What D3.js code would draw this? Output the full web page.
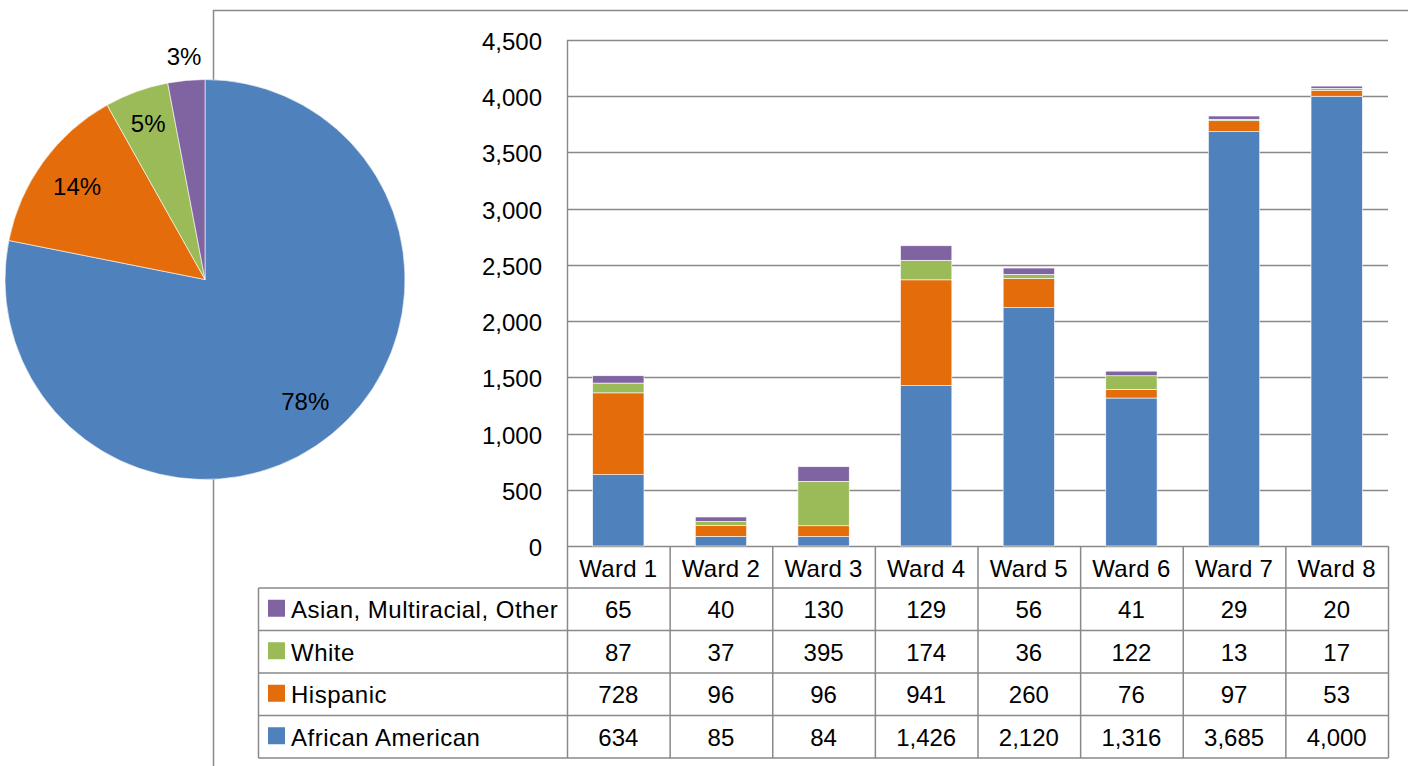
<!DOCTYPE html>
<html>
<head>
<meta charset="utf-8">
<script src="https://cdn.jsdelivr.net/npm/d3@7"></script>
<style>
  body { margin: 0; background: #ffffff; }
  svg { display: block; font-family: "Liberation Sans", Arial, sans-serif; }
</style>
</head>
<body>
<div id="chart"></div>
<script>
// data
var wards = ["Ward 1", "Ward 2", "Ward 3", "Ward 4", "Ward 5", "Ward 6", "Ward 7", "Ward 8"];
var groups = ["African American", "Hispanic", "White", "Asian, Multiracial, Other"];
var africanAmerican = [634, 85, 84, 1426, 2120, 1316, 3685, 4000];
var hispanic = [728, 96, 96, 941, 260, 76, 97, 53];
var white = [87, 37, 395, 174, 36, 122, 13, 17];
var asianOther = [65, 40, 130, 129, 56, 41, 29, 20];
var yTicks = [0, 500, 1000, 1500, 2000, 2500, 3000, 3500, 4000, 4500];

var colors = ["#4f81bd", "#e46c0a", "#9bbb59", "#8064a2"];
var lineColor = "#898989";
var fontSize = 24;

var width = 1408;
var height = 766;
var svg = d3.select("#chart")
            .append("svg")
            .attr("width", width)
            .attr("height", height);

var series = [africanAmerican, hispanic, white, asianOther];

// chart frame (partly hidden by pie)
svg.append("path")
    .attr("d", "M213.5," + height + "V10.5H" + width)
    .attr("fill", "none")
    .attr("stroke", lineColor)
    .attr("stroke-width", 1.5);

// bar chart
var plotLeft = 567, plotRight = 1388, plotTop = 40, plotBottom = 546;
var x = d3.scaleBand()
            .domain(wards)
            .range([plotLeft, plotRight])
            .paddingInner(0.5)
            .paddingOuter(0.25);
var y = d3.scaleLinear()
            .domain([0, 4500])
            .range([plotBottom, plotTop]);

svg.append("g")
    .selectAll("line")
    .data(yTicks)
    .enter()
    .append("line")
    .attr("x1", plotLeft)
    .attr("x2", plotRight)
    .attr("y1", function(d){ return Math.round(y(d)) + 0.5; })
    .attr("y2", function(d){ return Math.round(y(d)) + 0.5; })
    .attr("stroke", lineColor)
    .attr("stroke-width", 1.4);

svg.append("line")
    .attr("x1", plotLeft + 0.5).attr("x2", plotLeft + 0.5)
    .attr("y1", plotTop).attr("y2", plotBottom)
    .attr("stroke", lineColor)
    .attr("stroke-width", 1.4);

svg.append("g")
    .selectAll("text")
    .data(yTicks)
    .enter()
    .append("text")
    .attr("x", 542)
    .attr("y", function(d){ return y(d) + 10; })
    .attr("text-anchor", "end")
    .attr("font-size", fontSize)
    .attr("fill", "#000")
    .text(function(d){ return d3.format(",")(d); });

var stackData = wards.map(function(w, i){
    var row = { ward: w };
    groups.forEach(function(g, k){ row[g] = series[k][i]; });
    return row;
});
var stacked = d3.stack().keys(groups)(stackData);

svg.append("g")
    .selectAll("g")
    .data(stacked)
    .enter()
    .append("g")
    .attr("fill", function(d, i){ return colors[i]; })
    .selectAll("rect")
    .data(function(d){ return d; })
    .enter()
    .append("rect")
    .attr("x", function(d){ return x(d.data.ward); })
    .attr("width", x.bandwidth())
    .attr("y", function(d){ return y(d[1]); })
    .attr("height", function(d){ return y(d[0]) - y(d[1]); })
    .attr("stroke", "#ffffff")
    .attr("stroke-width", 0.6);

// data table
var rowH = 42.5;
var headTop = plotBottom;
var tableTop = headTop + 42;
var legendLeft = 258.5;
var rowOrder = [3, 2, 1, 0];
var step = x.step();
var colEdges = d3.range(wards.length + 1).map(function(i){ return plotLeft + i * step; });

var table = svg.append("g");
// header column lines
table.selectAll("line.col")
    .data(colEdges)
    .enter()
    .append("line")
    .attr("x1", function(d){ return d + 0.5; })
    .attr("x2", function(d){ return d + 0.5; })
    .attr("y1", headTop)
    .attr("y2", tableTop + rowH * 4)
    .attr("stroke", lineColor)
    .attr("stroke-width", 1.5);
table.append("line")
    .attr("x1", legendLeft).attr("x2", legendLeft)
    .attr("y1", tableTop).attr("y2", tableTop + rowH * 4)
    .attr("stroke", lineColor)
    .attr("stroke-width", 1.5);
table.selectAll("line.row")
    .data(d3.range(5))
    .enter()
    .append("line")
    .attr("x1", legendLeft)
    .attr("x2", plotRight + 0.5)
    .attr("y1", function(d){ return tableTop + d * rowH; })
    .attr("y2", function(d){ return tableTop + d * rowH; })
    .attr("stroke", lineColor)
    .attr("stroke-width", 1.5);

table.selectAll("text.ward")
    .data(wards)
    .enter()
    .append("text")
    .attr("x", function(d){ return x(d) + x.bandwidth() / 2; })
    .attr("y", headTop + 21 + 10)
    .attr("text-anchor", "middle")
    .attr("font-size", fontSize)
    .attr("letter-spacing", 0.3)
    .text(function(d){ return d; });

rowOrder.forEach(function(k, r){
    var cy = tableTop + r * rowH + rowH / 2;
    table.append("rect")
        .attr("x", 268)
        .attr("y", cy - 9.5)
        .attr("width", 17)
        .attr("height", 17)
        .attr("fill", colors[k]);
    table.append("text")
        .attr("x", 291)
        .attr("y", cy + 9)
        .attr("font-size", fontSize)
        .attr("letter-spacing", 0.5)
        .text(groups[k]);
    table.selectAll("text.v" + k)
        .data(series[k])
        .enter()
        .append("text")
        .attr("x", function(d, i){ return x(wards[i]) + x.bandwidth() / 2; })
        .attr("y", cy + 9)
        .attr("text-anchor", "middle")
        .attr("font-size", fontSize)
        .text(function(d){ return d3.format(",")(d); });
});

// pie of totals
var totals = series.map(function(s){ return d3.sum(s); });
var grand = d3.sum(totals);
var pieR = 200;
var pieG = svg.append("g").attr("transform", "translate(205,279.5)");
var pie = d3.pie().sort(null).value(function(d){ return d; });
var arc = d3.arc().innerRadius(0).outerRadius(pieR);
var arcs = pie(totals);

pieG.selectAll("path")
    .data(arcs)
    .enter()
    .append("path")
    .attr("d", arc)
    .attr("fill", function(d, i){ return colors[i]; })
    .attr("stroke", "#ffffff")
    .attr("stroke-width", 0.6);

pieG.selectAll("text")
    .data(arcs)
    .enter()
    .append("text")
    .attr("transform", function(d){
        var share = d.value / grand;
        var r = share < 0.04 ? 224 : (share < 0.1 ? 166 : 158);
        var a = (d.startAngle + d.endAngle) / 2;
        return "translate(" + (r * Math.sin(a)) + "," + (-r * Math.cos(a)) + ")";
    })
    .attr("dy", "0.36em")
    .attr("text-anchor", "middle")
    .attr("font-size", fontSize)
    .text(function(d){ return Math.round(d.value / grand * 100) + "%"; });
</script>
</body>
</html>
